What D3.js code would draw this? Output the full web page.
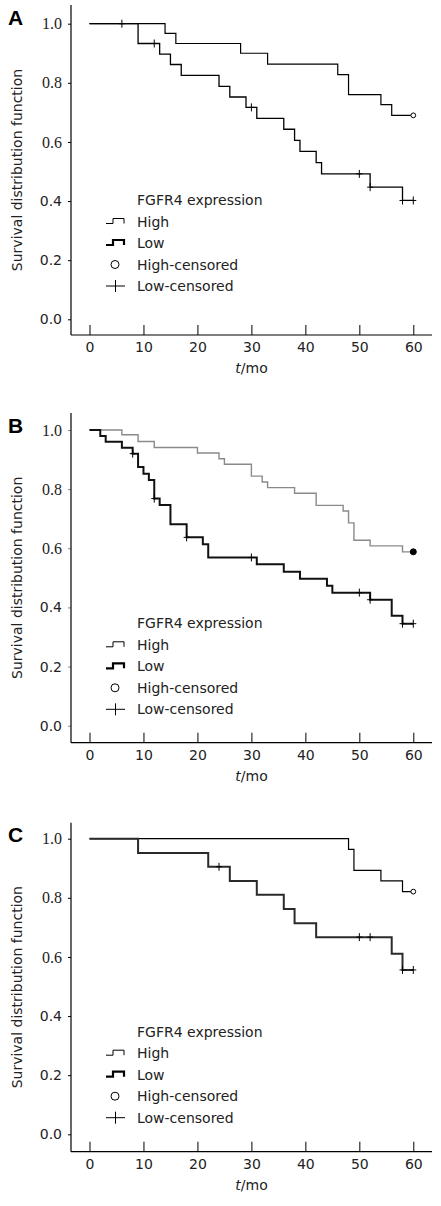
<!DOCTYPE html>
<html><head><meta charset="utf-8">
<script src="https://cdn.jsdelivr.net/npm/d3@7/dist/d3.min.js"></script>
<style>body{margin:0;background:#fff}svg{display:block}</style>
</head><body>
<script>
// ---- data ----
const panelLabels = ["A", "B", "C"];
const xTicks = [0, 10, 20, 30, 40, 50, 60];
const yTicks = [0.0, 0.2, 0.4, 0.6, 0.8, 1.0];
const legendTitle = "FGFR4 expression";
const legendItems = ["High", "Low", "High-censored", "Low-censored"];
const yTitle = "Survival distribution function";

// Panel A
const aHighTimes = [14, 16, 28, 33, 46, 48, 54, 56];
const aHighSurv  = [0.967, 0.933, 0.900, 0.863, 0.828, 0.760, 0.726, 0.690];
const aHighCens  = [60];
const aLowTimes  = [9, 13, 15, 17, 24, 26, 29, 31, 36, 38, 39, 42, 43, 52, 58];
const aLowSurv   = [0.933, 0.897, 0.862, 0.825, 0.788, 0.752, 0.717, 0.680, 0.643, 0.605, 0.568, 0.530, 0.492, 0.447, 0.402];
const aLowCens   = [6, 12, 30, 50, 52, 58, 60];

// Panel B
const bHighTimes = [6, 9, 12, 20, 24, 25, 30, 32, 33, 38, 42, 47, 48, 49, 52, 58];
const bHighSurv  = [0.984, 0.961, 0.941, 0.922, 0.903, 0.884, 0.844, 0.824, 0.805, 0.786, 0.745, 0.726, 0.686, 0.627, 0.608, 0.588];
const bHighCens  = [60];
const bLowTimes  = [2, 3, 6, 8, 9, 10, 11, 12, 13, 15, 18, 21, 22, 31, 36, 39, 44, 45, 52, 56, 58];
const bLowSurv   = [0.980, 0.960, 0.940, 0.920, 0.875, 0.852, 0.831, 0.768, 0.746, 0.681, 0.637, 0.614, 0.569, 0.546, 0.521, 0.497, 0.473, 0.450, 0.426, 0.372, 0.345];
const bLowCens   = [8, 12, 18, 30, 50, 52, 58, 60];

// Panel C
const cHighTimes = [48, 49, 54, 58];
const cHighSurv  = [0.964, 0.893, 0.857, 0.821];
const cHighCens  = [60];
const cLowTimes  = [9, 22, 26, 31, 36, 38, 42, 56, 58];
const cLowSurv   = [0.952, 0.905, 0.857, 0.810, 0.762, 0.714, 0.667, 0.611, 0.556];
const cLowCens   = [24, 50, 52, 58, 60];

// ---- layout / style ----
const W = 441, H = 1206;
const panels = [
  {label: panelLabels[0], hT: aHighTimes, hS: aHighSurv, hC: aHighCens, lT: aLowTimes, lS: aLowSurv, lC: aLowCens,
   y1: 23.7, y0: 319.3, axisY: 335, topY: 5, legY: 205, labY: 25,
   highColor: "#000", highW: 1.2, lowColor: "#000", lowW: 1.3, circFill: "#fff", circR: 2.4},
  {label: panelLabels[1], hT: bHighTimes, hS: bHighSurv, hC: bHighCens, lT: bLowTimes, lS: bLowSurv, lC: bLowCens,
   y1: 430, y0: 725.7, axisY: 742.7, topY: 413, legY: 628.3, labY: 432.5,
   highColor: "#8a8a8a", highW: 1.4, lowColor: "#111", lowW: 2, circFill: "#000", circR: 3},
  {label: panelLabels[2], hT: cHighTimes, hS: cHighSurv, hC: cHighCens, lT: cLowTimes, lS: cLowSurv, lC: cLowCens,
   y1: 838.7, y0: 1134.3, axisY: 1151.7, topY: 822.7, legY: 1036.7, labY: 841.5,
   highColor: "#000", highW: 1.2, lowColor: "#2a2a2a", lowW: 2, circFill: "#fff", circR: 2.4}
];
const axisLeft = 71, axisRight = 432;
const x = d3.scaleLinear().domain([0, 60]).range([89.5, 413.3]);
const sans = "'DejaVu Sans', Verdana, sans-serif";
const serif = "'Liberation Serif', 'Times New Roman', serif";

const svg = d3.select("body").append("svg").attr("width", W).attr("height", H)
  .style("background", "#fff");

function stepPoints(times, surv) {
  const pts = [[0, 1]];
  times.forEach((t, i) => pts.push([t, surv[i]]));
  pts.push([60, surv.length ? surv[surv.length - 1] : 1]);
  return pts;
}
function survAt(times, surv, t) {
  let s = 1;
  times.forEach((tt, i) => { if (tt <= t) s = surv[i]; });
  return s;
}

panels.forEach(p => {
  const y = d3.scaleLinear().domain([0, 1]).range([p.y0, p.y1]);
  const g = svg.append("g");

  // panel letter
  g.append("text").attr("x", 8).attr("y", p.labY)
    .attr("font-family", "'Liberation Sans', Arial, sans-serif").attr("font-weight", "bold")
    .attr("font-size", 21).attr("fill", "#000").text(p.label);

  // y axis
  const yAx = g.append("g").attr("transform", `translate(${axisLeft},0)`)
    .call(d3.axisLeft(y).tickValues(yTicks).tickSize(3).tickSizeOuter(0).tickFormat(d3.format(".1f")));
  yAx.select(".domain").remove();
  yAx.selectAll(".tick line").attr("stroke", p.label === "B" ? "#888" : "#000").attr("stroke-width", 1);
  yAx.selectAll(".tick text")
    .attr("x", -9)
    .attr("font-family", d => d >= 0.6 ? serif : sans)
    .attr("font-size", d => d >= 0.6 ? 16 : 14)
    .attr("fill", "#222");
  g.append("line").attr("x1", axisLeft).attr("x2", axisLeft).attr("y1", p.topY).attr("y2", p.axisY)
    .attr("stroke", "#000").attr("stroke-width", 1.2);

  // x axis
  const xAx = g.append("g").attr("transform", `translate(0,${p.axisY})`)
    .call(d3.axisBottom(x).tickValues(xTicks).tickSize(-10).tickSizeOuter(0).tickFormat(d3.format("d")));
  xAx.select(".domain").remove();
  xAx.selectAll(".tick line").attr("stroke", "#000").attr("stroke-width", 1);
  xAx.selectAll(".tick text").attr("y", 7).attr("dy", "0.71em")
    .attr("font-family", sans).attr("font-size", 14).attr("fill", "#222");
  g.append("line").attr("x1", axisLeft).attr("x2", axisRight).attr("y1", p.axisY).attr("y2", p.axisY)
    .attr("stroke", "#000").attr("stroke-width", 1.2);

  // axis titles
  const xt = g.append("text").attr("x", (axisLeft + axisRight) / 2).attr("y", p.axisY + 38)
    .attr("text-anchor", "middle").attr("font-family", sans).attr("font-size", 14).attr("fill", "#222");
  xt.append("tspan").attr("font-style", "italic").text("t");
  xt.append("tspan").text("/mo");
  g.append("text").attr("transform", `translate(22,${(p.topY + p.axisY) / 2}) rotate(-90)`)
    .attr("text-anchor", "middle").attr("font-family", sans).attr("font-size", 14).attr("fill", "#222")
    .text(yTitle);

  // curves
  const line = d3.line().x(d => x(d[0])).y(d => y(d[1])).curve(d3.curveStepAfter);
  g.append("path").attr("d", line(stepPoints(p.hT, p.hS))).attr("fill", "none")
    .attr("stroke", p.highColor).attr("stroke-width", p.highW);
  g.append("path").attr("d", line(stepPoints(p.lT, p.lS))).attr("fill", "none")
    .attr("stroke", p.lowColor).attr("stroke-width", p.lowW);

  // censored marks
  p.lC.forEach(t => {
    const cx = x(t), cy = y(survAt(p.lT, p.lS, t));
    g.append("line").attr("x1", cx).attr("x2", cx).attr("y1", cy - 4).attr("y2", cy + 4)
      .attr("stroke", "#000").attr("stroke-width", 1);
    g.append("line").attr("x1", cx - 3).attr("x2", cx + 3).attr("y1", cy).attr("y2", cy)
      .attr("stroke", "#000").attr("stroke-width", 1);
  });
  p.hC.forEach(t => {
    g.append("circle").attr("cx", x(t)).attr("cy", y(survAt(p.hT, p.hS, t))).attr("r", p.circR)
      .attr("fill", p.circFill).attr("stroke", "#000").attr("stroke-width", 1);
  });

  // legend
  const lx = 137, sx = 106;
  g.append("text").attr("x", lx).attr("y", p.legY).attr("font-family", sans).attr("font-size", 14)
    .attr("fill", "#222").text(legendTitle);
  const rowY = i => p.legY + 21.5 * (i + 1);
  legendItems.forEach((name, i) => {
    const ty = rowY(i);
    g.append("text").attr("x", lx).attr("y", ty).attr("font-family", sans).attr("font-size", 14)
      .attr("fill", "#222").text(name);
    const cy = ty - 5;
    if (i < 2) {
      g.append("path").attr("d", `M${sx},${cy + 2}H${sx + 7}V${cy - 3}H${sx + 18}V${cy + 2}`)
        .attr("fill", "none").attr("stroke", "#000").attr("stroke-width", i === 0 ? 1 : 2.2);
    } else if (i === 2) {
      g.append("circle").attr("cx", sx + 9).attr("cy", cy).attr("r", 4)
        .attr("fill", "#fff").attr("stroke", "#000").attr("stroke-width", 1);
    } else {
      g.append("line").attr("x1", sx).attr("x2", sx + 19).attr("y1", cy).attr("y2", cy)
        .attr("stroke", "#000").attr("stroke-width", 1);
      g.append("line").attr("x1", sx + 9.5).attr("x2", sx + 9.5).attr("y1", cy - 6).attr("y2", cy + 6)
        .attr("stroke", "#000").attr("stroke-width", 1);
    }
  });
});
</script>
</body></html>
